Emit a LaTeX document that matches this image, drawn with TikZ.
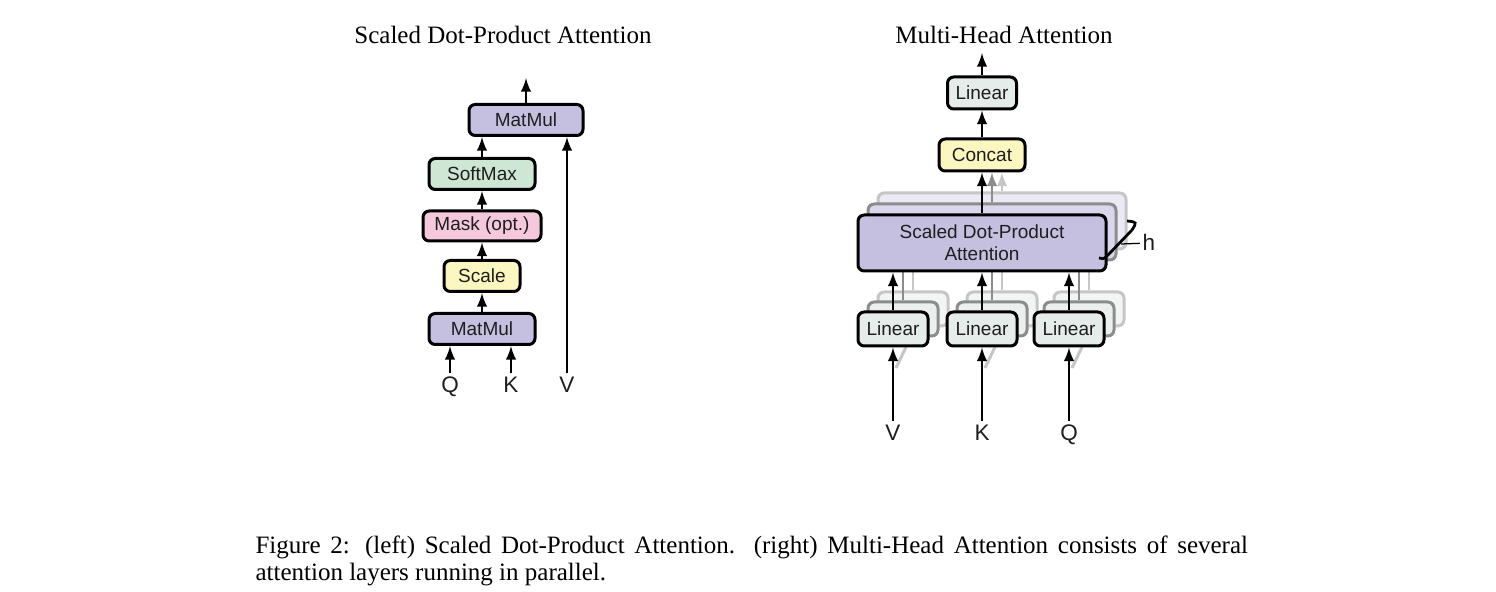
\documentclass[tikz,border=0pt]{standalone}
\usepackage{fontspec}
\setmainfont{Liberation Serif}
\newfontfamily\diagfont{Liberation Sans}
\usetikzlibrary{arrows.meta}

\definecolor{matmulcol}{RGB}{198,192,224}
\definecolor{softmaxcol}{RGB}{206,230,212}
\definecolor{maskcol}{RGB}{245,200,220}
\definecolor{scalecol}{RGB}{252,246,192}
\definecolor{linearcol}{RGB}{230,236,234}
\definecolor{inkcol}{RGB}{30,30,30}

\begin{document}
\begin{tikzpicture}[x=0.4pt,y=-0.4pt,>=latex,
    box/.style={draw, line width=1.2pt, rounded corners=2.5pt, inner sep=0pt, align=center,
      text=inkcol, font=\diagfont\fontsize{7.6}{8.8}\selectfont},
    sz/.style 2 args={minimum width=#1*0.4pt, minimum height=#2*0.4pt},
    lab/.style={inner sep=1pt, text height=6.5pt, text depth=0.5pt, text=inkcol,
      font=\diagfont\fontsize{9}{10}\selectfont},
    flow/.style={->, line width=0.9pt}]
    \useasboundingbox (0,0) rectangle (1496,592);

    % titles
    \node (ltitle) at (503,35) {Scaled Dot-Product Attention};
    \node (rtitle) at (1004,35) {Multi-Head Attention};

    % the left diagram
    \node[box, sz={114}{31}, fill=matmulcol]  (mmtop)   at (526,120) {MatMul};
    \node[box, sz={106}{31}, fill=softmaxcol] (softmax) at (482,174) {SoftMax};
    \node[box, sz={118}{30}, fill=maskcol]    (mask)    at (482,226) {Mask (opt.)};
    \node[box, sz={76}{31},  fill=scalecol]   (scale)   at (482,276) {Scale};
    \node[box, sz={106}{31}, fill=matmulcol]  (mmbot)   at (482,329) {MatMul};
    \node[lab] (lq) at (450,385) {Q};
    \node[lab] (lk) at (511,385) {K};
    \node[lab] (lv) at (567,385) {V};
    \coordinate (lout) at (526,78);

    \draw[flow] (lq.north) -- (lq.north |- mmbot.south);
    \draw[flow] (lk.north) -- (lk.north |- mmbot.south);
    \draw[flow] (mmbot) -- (scale);
    \draw[flow] (scale) -- (mask);
    \draw[flow] (mask) -- (softmax);
    \draw[flow] (softmax.north) -- (softmax.north |- mmtop.south);
    \draw[flow] (lv.north) -- (lv.north |- mmtop.south);
    \draw[flow] (mmtop) -- (lout);

    % the right diagram: heads behind
    \node[box, sz={248}{56}, draw=gray!45, fill=matmulcol!35]    (sdpac) at (1002,221) {};
    \node[box, sz={248}{56}, draw=gray!90, fill=matmulcol!65]    (sdpab) at (992,232) {};
    \foreach \n/\x in {v/893,k/982,q/1069} {
      \node[box, sz={70}{34}, draw=gray!45, fill=linearcol!50] (lin\n c) at (\x+20,309) {};
      \node[box, sz={70}{34}, draw=gray!90, fill=linearcol!80] (lin\n b) at (\x+10,319) {};
      \draw[line width=0.9pt, gray!45] (lin\n c) -- (lin\n c |- sdpab.south);
      \draw[line width=0.9pt, gray!90] (lin\n b) -- (lin\n b |- sdpab.south);
      \draw[line width=1.2pt, gray!45] (\x+3,368) -- (\x+13,347);
    }

    % the right diagram: front
    \node[box, sz={69}{32}, fill=linearcol] (lintop) at (982,93) {Linear};
    \node[box, sz={86}{32}, fill=scalecol]  (concat) at (982,155) {Concat};
    \node[box, sz={248}{56}, fill=matmulcol] (sdpa)  at (982,243) {Scaled Dot-Product\\Attention};
    \node[box, sz={70}{34}, fill=linearcol] (linv) at (893,329) {Linear};
    \node[box, sz={70}{34}, fill=linearcol] (link) at (982,329) {Linear};
    \node[box, sz={70}{34}, fill=linearcol] (linq) at (1069,329) {Linear};
    \node[lab] (rv) at (893,433) {V};
    \node[lab] (rk) at (982,433) {K};
    \node[lab] (rq) at (1069,433) {Q};
    \coordinate (rout) at (982,53);

    \draw[flow] (rv.north) -- (linv);
    \draw[flow] (rk.north) -- (link);
    \draw[flow] (rq.north) -- (linq);
    \draw[flow] (linv) -- (linv |- sdpa.south);
    \draw[flow] (link) -- (link |- sdpa.south);
    \draw[flow] (linq) -- (linq |- sdpa.south);
    \draw[flow, gray!45] (sdpac) -- (sdpac |- concat.south);
    \draw[flow, gray!90] (sdpab) -- (sdpab |- concat.south);
    \draw[flow] (sdpa) -- (concat);
    \draw[flow] (concat) -- (lintop);
    \draw[flow] (lintop) -- (rout);

    % the h brace
    \draw[line width=1.1pt] (1127,221) .. controls (1137,222) .. (1132,230)
      -- (1108,255) .. controls (1104,259) .. (1099,258);
    \node[lab] (hlab) at (1149,243) {h};
    \coordinate (htick) at (1121,244);
    \draw[line width=0.5pt] (htick) -- (hlab);

    % caption
    \node[anchor=north west, inner sep=0pt, text width=397pt, align=justify,
      font=\fontsize{10}{11}\selectfont] (caption) at (255,535)
      {Figure 2: (left) Scaled Dot-Product Attention. (right) Multi-Head Attention consists of several \mbox{attention} layers running in parallel.};
\end{tikzpicture}
\end{document}
